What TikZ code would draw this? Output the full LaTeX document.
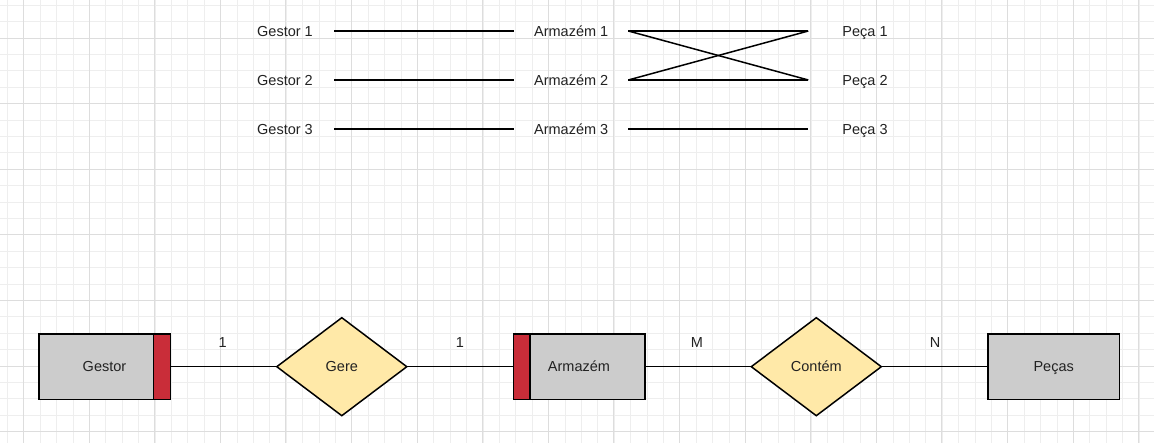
\documentclass[tikz,border=0pt]{standalone}
\usepackage{fontspec}
\setmainfont{Liberation Sans}
\usetikzlibrary{shapes.geometric}
\definecolor{gridminor}{HTML}{EEEEEE}
\definecolor{gridmajor}{HTML}{DDDDDD}
\definecolor{entfill}{HTML}{CCCCCC}
\definecolor{weakred}{HTML}{C92D39}
\definecolor{relfill}{HTML}{FFE9A8}
\definecolor{txt}{HTML}{222222}
\begin{document}
\begin{tikzpicture}[x=1pt,y=-1pt,
  lbl/.style={font=\fontsize{14.5}{17}\selectfont, text=txt, text height=10.4pt, text depth=0pt, inner sep=0pt, outer sep=0pt},
  entity/.style={lbl, draw=black, line width=1.5pt, fill=entfill, minimum width=131.5pt, minimum height=65.3pt},
  rel/.style={lbl, shape=diamond, draw=black, line width=1.5pt, fill=relfill, minimum width=130pt, minimum height=98pt, aspect=1.3265},
  link/.style={line width=1.5pt, draw=black},
  gmin/.style={draw=gridminor, line width=0.8pt},
  gmaj/.style={draw=gridmajor, line width=0.8pt}
]
\useasboundingbox (0,0) rectangle (1154,443);
\fill[white] (0,0) rectangle (1154,443);
% grid
\foreach \i in {0,...,70} \draw[gmin] ({7.3+16.4*\i},0) -- ({7.3+16.4*\i},443);
\foreach \i in {0,...,26} \draw[gmin] (0,{5.3+16.4*\i}) -- (1154,{5.3+16.4*\i});
\foreach \i in {0,...,17} \draw[gmaj] ({23.3+65.6*\i},0) -- ({23.3+65.6*\i},443);
\foreach \i in {0,...,6} \draw[gmaj] (0,{38.1+65.6*\i}) -- (1154,{38.1+65.6*\i});

% top instance diagram
\node[lbl, minimum width=98pt] (g1) at (285,31) {Gestor 1};
\node[lbl, minimum width=98pt] (g2) at (285,80) {Gestor 2};
\node[lbl, minimum width=98pt] (g3) at (285,129) {Gestor 3};
\node[lbl, minimum width=114.3pt] (a1) at (571.2,31) {Armazém 1};
\node[lbl, minimum width=114.3pt] (a2) at (571.2,80) {Armazém 2};
\node[lbl, minimum width=114.3pt] (a3) at (571.2,129) {Armazém 3};
\node[lbl, minimum width=113.4pt] (p1) at (865,31) {Peça 1};
\node[lbl, minimum width=113.4pt] (p2) at (865,80) {Peça 2};
\node[lbl, minimum width=113.4pt] (p3) at (865,129) {Peça 3};
\draw[link] (g1.east) -- (a1.west);
\draw[link] (g2.east) -- (a2.west);
\draw[link] (g3.east) -- (a3.west);
\draw[link] (a1.east) -- (p1.west);
\draw[link] (a1.east) -- (p2.west);
\draw[link] (a2.east) -- (p1.west);
\draw[link] (a2.east) -- (p2.west);
\draw[link] (a3.east) -- (p3.west);

% ER diagram
\node[entity] (gestor) at (104.5,366.7) {Gestor};
\draw[link, fill=weakred] ([xshift=-16.6pt]gestor.north east) rectangle (gestor.south east);
\node[rel] (gere) at (341.8,366.7) {Gere};
\node[entity] (armazem) at (579,366.7) {Armazém};
\draw[link, fill=weakred] (armazem.north west) rectangle ([xshift=16.7pt]armazem.south west);
\node[rel] (contem) at (816.3,366.7) {Contém};
\node[entity] (pecas) at (1053.7,366.7) {Peças};
\draw[link] (gestor.east) -- (gere.west);
\draw[link] (gere.east) -- (armazem.west);
\draw[link] (armazem.east) -- (contem.west);
\draw[link] (contem.east) -- (pecas.west);
\node[lbl] (c1) at (222.7,342.3) {1};
\node[lbl] (c2) at (460,342.3) {1};
\node[lbl] (cM) at (697,342.3) {M};
\node[lbl] (cN) at (935,342.3) {N};
\end{tikzpicture}
\end{document}
